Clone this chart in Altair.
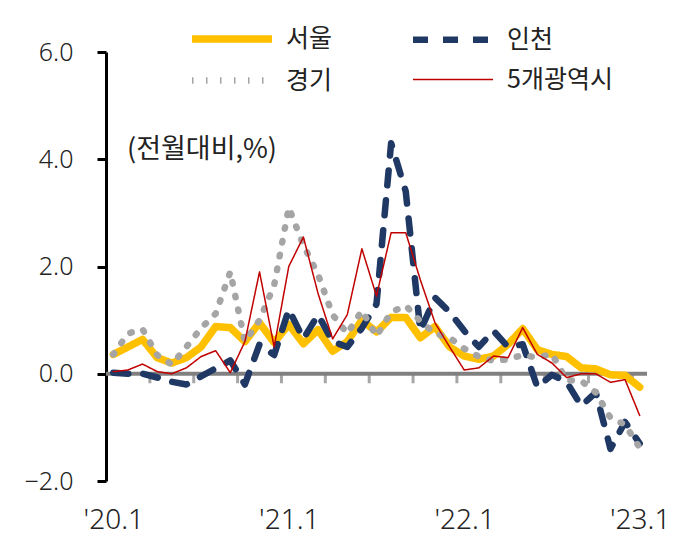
import altair as alt
import pandas as pd

# ---- data (monthly, '20.1 .. '23.1) ----
MONTH_INDEX = list(range(37))
X_LABELS = ["'20.1", "'21.1", "'22.1", "'23.1"]
X_LABEL_POS = [0, 12, 24, 36]
SERIES = ["서울", "인천", "경기", "5개광역시"]

seoul = [0.36, 0.5, 0.64, 0.3, 0.2, 0.3, 0.5, 0.88, 0.86, 0.6, 0.95, 0.58, 0.92, 0.56, 0.82, 0.42,
         0.6, 1.0, 0.78, 1.05, 1.05, 0.67, 0.88, 0.5, 0.33, 0.27, 0.33, 0.55, 0.84, 0.45, 0.36, 0.32,
         0.11, 0.09, -0.02, -0.03, -0.25]
incheon = [0.02, 0.0, 0.0, -0.07, -0.15, -0.2, -0.05, 0.1, 0.25, -0.2, 0.55, 0.35, 1.2, 0.65, 1.1,
           0.6, 0.5, 0.85, 1.3, 4.3, 3.4, 0.8, 1.42, 1.15, 0.8, 0.5, 0.8, 0.5, 0.55, -0.25, -0.02,
           -0.15, -0.6, -0.35, -1.4, -0.9, -1.3]
gyeonggi = [0.36, 0.75, 0.83, 0.35, 0.17, 0.5, 0.85, 1.12, 1.9, 0.6, 1.0, 1.65, 3.1, 2.4, 1.85, 1.1,
            0.75, 1.18, 0.7, 1.15, 1.27, 0.98, 0.75, 0.67, 0.47, 0.32, 0.24, 0.27, 0.35, 0.3, 0.37,
            -0.12, -0.13, -0.35, -0.82, -0.95, -1.38]
metro = [0.04, 0.07, 0.18, 0.04, 0.0, 0.11, 0.32, 0.43, 0.02, 0.6, 1.9, 0.5, 2.0, 2.55, 1.5, 0.65,
         1.1, 2.33, 1.45, 2.63, 2.63, 1.75, 0.95, 0.5, 0.07, 0.11, 0.33, 0.3, 0.86, 0.36, 0.2,
         -0.07, 0.0, 0.0, -0.16, -0.11, -0.78]

Y_TICKS = [-2, 0, 2, 4, 6]
BOUNDARY_TICKS = [2.5 + 3 * k for k in range(12)]

rows = []
for name, vals in zip(SERIES, [seoul, incheon, gyeonggi, metro]):
    for i, v in zip(MONTH_INDEX, vals):
        rows.append({"m": i, "v": v, "series": name})
df = pd.DataFrame(rows)

COLORS = ["#FFC000", "#1F3864", "#A5A5A5", "#C00000"]
DASHES = [[1, 0], [15, 15], [1.5, 12.5], [1, 0]]
WIDTHS = [7.5, 6.5, 6.5, 1.5]

FONT = "Noto Sans CJK KR"
NUMFONT = "Noto Sans"

label_expr = "[" + ",".join('"%s"' % l for l in X_LABELS) + "][round(datum.value/12)]"

x_scale = alt.Scale(domain=[-0.5, 36.5], nice=False, zero=False)
y_scale = alt.Scale(domain=[-2, 6], nice=False, zero=False)

legend = alt.Legend(
    title=None, orient="none", legendX=112, legendY=-27, columns=2,
    direction="horizontal",
    symbolType="M-4,0H4", symbolSize=400, labelFont=FONT, labelFontSize=25,
    labelColor="#222222", labelOffset=40, columnPadding=67, rowPadding=13,
    padding=0,
)

enc = dict(
    x=alt.X("m:Q", scale=x_scale,
            axis=alt.Axis(values=X_LABEL_POS, labelExpr=label_expr, grid=False, domain=False,
                          ticks=False, labelPadding=25, labelFont=NUMFONT, labelFontSize=28,
                          labelFontWeight=300, labelColor="#222222", title=None)),
    y=alt.Y("v:Q", scale=y_scale,
            axis=alt.Axis(values=Y_TICKS, format=".1f", grid=False, domainColor="black",
                          domainWidth=3, tickColor="black", tickWidth=3, tickSize=9,
                          labelPadding=24, labelFont=NUMFONT, labelFontSize=25,
                          labelFontWeight=300, labelColor="#222222", title=None)),
    color=alt.Color("series:N", scale=alt.Scale(domain=SERIES, range=COLORS), legend=legend),
    strokeDash=alt.StrokeDash("series:N", scale=alt.Scale(domain=SERIES, range=DASHES), legend=legend),
    strokeWidth=alt.StrokeWidth("series:N",
                                scale=alt.Scale(type="ordinal", domain=SERIES, range=WIDTHS),
                                legend=legend),
)

base = alt.Chart(df)

zero_line = alt.Chart(pd.DataFrame({"y": [0], "x1": [-0.5], "x2": [36.5]})).mark_rule(
    color="#808080", strokeWidth=4
).encode(x=alt.X("x1:Q", scale=x_scale), x2="x2:Q", y=alt.Y("y:Q", scale=y_scale))

ticks = alt.Chart(pd.DataFrame({"t": BOUNDARY_TICKS, "y": [0] * len(BOUNDARY_TICKS)})).mark_tick(
    color="#808080", thickness=3, size=9, orient="vertical", yOffset=5
).encode(x=alt.X("t:Q", scale=x_scale), y=alt.Y("y:Q", scale=y_scale))

lines = []
for s in SERIES:
    lines.append(
        base.transform_filter(alt.datum.series == s)
        .mark_line(strokeCap="round", strokeJoin="round")
        .encode(**enc)
    )

note = alt.Chart(pd.DataFrame({"t": ["(전월대비,%)"]})).mark_text(
    align="left", baseline="middle", font=FONT, fontSize=27, color="#222222"
).encode(x=alt.value(21), y=alt.value(98), text="t:N")

chart = alt.layer(zero_line, ticks, *lines, note).properties(
    width=541, height=429,
    autosize=alt.AutoSizeParams(type="none"),
    padding={"left": 106, "top": 52, "right": 38, "bottom": 59},
    background="white",
).configure_view(stroke=None)

chart.save("out.html", embed_options={"renderer": "svg", "actions": False})
